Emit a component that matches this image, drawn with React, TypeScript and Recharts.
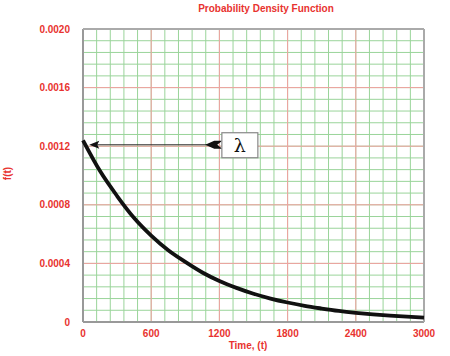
import React from 'react';
import { LineChart, Line, XAxis, YAxis, CartesianGrid, ReferenceLine, ReferenceDot } from 'recharts';

// values
const times = [0, 150, 300, 450, 600, 750, 900, 1050, 1200, 1350, 1500, 1650, 1800, 1950, 2100, 2250, 2400, 2550, 2700, 2850, 3000];
const density = [0.00124, 0.00103, 0.00086, 0.00071, 0.00059, 0.00049, 0.00041, 0.000338, 0.00028, 0.000233, 0.000193, 0.00016, 0.000133, 0.00011, 0.000092, 0.000076, 0.000063, 0.000052, 0.000043, 0.000036, 0.00003];

const xMajor = [0, 600, 1200, 1800, 2400, 3000];
const yMajor = [0, 0.0004, 0.0008, 0.0012, 0.0016, 0.002];
const xMinor = Array.from({ length: 26 }, (_, i) => i * 120);
const yMinor = Array.from({ length: 26 }, (_, i) => i * 0.00008);

const lambdaAt = { t: 1380, f: 0.00121, arrowFrom: 1225, arrowTo: 55 };

const data = times.map((t, i) => ({ t, f: density[i] }));

const RED = '#e8332f';
const isMajor = (v: number, step: number) => Math.abs(v / step - Math.round(v / step)) < 1e-6;

const ArrowShape = (props: any) => {
  const { x1, y1, x2 } = props;
  const y = y1;
  const left = Math.min(x1, x2);
  const right = Math.max(x1, x2);
  return (
    <g>
      <line x1={left + 4} y1={y} x2={right - 10} y2={y} stroke="#333" strokeWidth={1.2} />
      <path d={`M${left},${y} L${left + 10},${y - 4} L${left + 8},${y} L${left + 10},${y + 4} Z`} fill="#111" />
      <path d={`M${right - 17},${y} L${right - 8},${y - 4} L${right},${y - 4} L${right - 5},${y} L${right},${y + 4} L${right - 8},${y + 4} Z`} fill="#111" />
    </g>
  );
};

const LambdaBox = (props: any) => {
  const { cx, cy } = props;
  return (
    <g>
      <rect x={cx - 18} y={cy - 12} width={36} height={25} fill="#fff" stroke="#888" strokeWidth={1.2} />
      <text x={cx} y={cy + 7} textAnchor="middle" fontFamily="DejaVu Serif, serif" fontSize={19} fill="#111">λ</text>
    </g>
  );
};

const App = () => {
  return (
    <div style={{ position: 'absolute', left: 0, top: 0, width: 450, height: 356, background: '#fff', fontFamily: 'Liberation Sans, Arial, sans-serif' }}>
      <div style={{ position: 'absolute', left: 0, width: 532, top: 3, textAlign: 'center', color: RED, fontWeight: 'bold', fontSize: 10 }}>
        Probability Density Function
      </div>
      <div style={{ position: 'absolute', left: 1, top: 168, transform: 'rotate(-90deg)', color: RED, fontWeight: 'bold', fontSize: 10 }}>
        f(t)
      </div>
      <div style={{ position: 'absolute', left: 0, width: 496, top: 340, textAlign: 'center', color: RED, fontWeight: 'bold', fontSize: 10 }}>
        Time, (t)
      </div>
      <LineChart width={450} height={356} data={data} margin={{ top: 29, right: 26, bottom: 0, left: 0 }}>
        <CartesianGrid stroke="#9ad49a" strokeWidth={1} />
        <XAxis
          dataKey="t"
          type="number"
          domain={[0, 3000]}
          ticks={xMinor}
          height={34}
          tickLine={false}
          axisLine={false}
          tickSize={4}
          tickMargin={4}
          interval={0}
          tickFormatter={(v: number) => (isMajor(v, 600) ? String(v) : '')}
          tick={{ fill: RED, fontSize: 10, fontWeight: 'bold' }}
        />
        <YAxis
          type="number"
          domain={[0, 0.002]}
          ticks={yMinor}
          width={83}
          tickLine={false}
          axisLine={false}
          tickSize={6}
          tickMargin={7}
          interval={0}
          tickFormatter={(v: number) => (isMajor(v, 0.0004) ? (v === 0 ? '0' : v.toFixed(4)) : '')}
          tick={{ fill: RED, fontSize: 10, fontWeight: 'bold' }}
        />
        {xMajor.slice(1, -1).map((x) => (
          <ReferenceLine key={'x' + x} x={x} stroke="#f2a0a0" strokeWidth={1} />
        ))}
        {yMajor.slice(1, -1).map((y) => (
          <ReferenceLine key={'y' + y} y={y} stroke="#f2a0a0" strokeWidth={1} />
        ))}
        <ReferenceLine x={0} stroke="#999" strokeWidth={2} />
        <ReferenceLine y={0} stroke="#999" strokeWidth={2} />
        <ReferenceLine x={3000} stroke="#aaa" strokeWidth={2} />
        <ReferenceLine y={0.002} stroke="#aaa" strokeWidth={2} />
        <Line type="monotone" dataKey="f" stroke="#111" strokeWidth={3.8} dot={false} isAnimationActive={false} />
        <ReferenceLine
          segment={[{ x: lambdaAt.arrowTo, y: lambdaAt.f }, { x: lambdaAt.arrowFrom, y: lambdaAt.f }]}
          shape={ArrowShape}
        />
        <ReferenceDot x={lambdaAt.t} y={lambdaAt.f} shape={LambdaBox} />
      </LineChart>
    </div>
  );
};

export default App;
